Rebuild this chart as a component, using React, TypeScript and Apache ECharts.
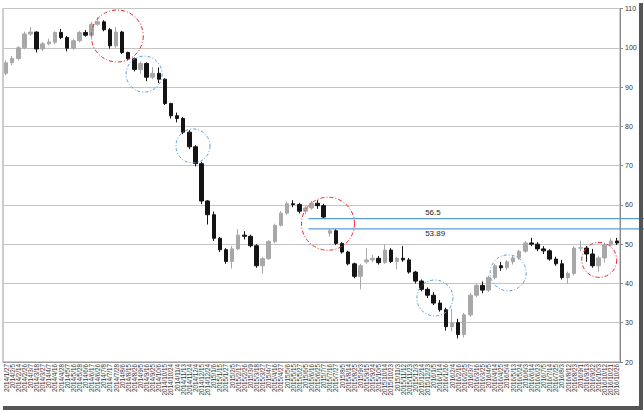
import React, { useEffect, useRef } from "react";
import * as echarts from "echarts";

const dates = [
  "2014/1/27","2014/2/5","2014/2/14","2014/2/26","2014/3/7","2014/3/18","2014/3/27","2014/4/7","2014/4/16","2014/4/28",
  "2014/5/7","2014/5/16","2014/5/28","2014/6/6","2014/6/17","2014/6/26","2014/7/8","2014/7/17","2014/7/28","2014/8/6",
  "2014/8/15","2014/8/26","2014/9/5","2014/9/16","2014/9/25","2014/10/6","2014/10/15","2014/10/24","2014/11/4","2014/11/13",
  "2014/11/24","2014/12/4","2014/12/15","2014/12/24",
  "2015/1/6","2015/1/15","2015/1/27","2015/2/5","2015/2/17","2015/2/26","2015/3/9","2015/3/18","2015/3/27","2015/4/7",
  "2015/4/16","2015/4/27","2015/5/6","2015/5/15","2015/5/27","2015/6/5","2015/6/16","2015/6/25","2015/7/7","2015/7/16",
  "2015/7/27","2015/8/5","2015/8/14","2015/8/25","2015/9/3","2015/9/15","2015/9/24","2015/10/5","2015/10/14","2015/10/23",
  "2015/11/3","2015/11/12","2015/11/23","2015/12/3","2015/12/14","2015/12/23",
  "2016/1/5","2016/1/14","2016/1/26","2016/2/4","2016/2/16","2016/2/25","2016/3/7","2016/3/16","2016/3/25","2016/4/5",
  "2016/4/14","2016/4/25","2016/5/4","2016/5/13","2016/5/24","2016/6/3","2016/6/14","2016/6/23","2016/7/5","2016/7/14",
  "2016/7/25","2016/8/3","2016/8/12","2016/8/23","2016/9/1","2016/9/13","2016/9/22","2016/10/3","2016/10/12","2016/10/21",
  "2016/10/26",
];

const opens = [
  93.5,96.2,97.3,100.0,103.5,104.0,99.7,101.0,101.4,103.9,
  102.6,99.9,101.8,103.9,103.2,106.0,106.6,104.6,100.5,104.0,
  98.8,97.2,94.5,96.0,92.5,93.5,92.0,85.8,82.7,82.0,
  78.5,74.8,70.5,61.0,57.5,51.5,48.6,45.6,48.8,52.3,
  52.0,49.6,44.5,46.3,50.7,54.8,57.9,60.3,60.1,58.4,
  59.2,60.4,59.8,52.8,53.4,50.2,48.0,45.0,41.8,45.5,
  46.0,46.4,45.3,48.5,45.6,46.4,46.0,42.9,40.6,38.5,
  37.0,35.0,33.3,29.0,30.0,27.0,32.0,37.0,39.5,38.3,
  41.5,44.5,44.0,45.5,46.5,48.2,50.3,50.0,48.8,48.3,
  46.2,45.0,41.5,42.5,49.0,49.0,47.5,44.5,46.5,49.8,50.8,
];
const closes = [
  96.2,97.3,100.0,103.5,104.0,99.7,101.0,101.5,103.9,102.6,
  99.9,101.8,103.9,103.2,106.0,106.6,104.6,100.5,104.0,98.8,
  97.2,94.5,96.0,92.5,93.5,92.0,85.8,82.7,82.0,78.5,
  74.8,70.5,61.0,57.5,51.5,48.6,45.6,48.8,52.3,52.0,
  49.6,44.5,46.3,50.7,54.8,57.9,60.3,60.1,58.4,59.2,
  60.4,59.8,56.9,53.4,50.2,48.0,45.0,41.8,44.5,46.0,
  46.4,45.3,48.5,45.6,46.4,46.0,42.9,40.6,38.5,37.0,
  35.0,33.3,29.0,30.0,27.0,32.0,37.0,39.5,38.3,41.5,
  44.5,44.0,45.5,46.5,48.2,50.3,50.0,48.8,48.3,46.2,
  45.0,41.5,42.5,49.0,49.1,47.5,44.5,46.5,49.8,50.8,50.3,
];
const lows = [
  93.0,95.5,96.8,99.6,103.0,98.8,99.2,100.6,100.9,102.2,
  99.1,99.5,101.4,102.8,102.5,105.6,104.2,99.8,100.0,98.4,
  96.8,94.0,93.4,91.5,92.0,91.0,85.4,82.0,81.0,78.0,
  74.2,69.8,60.2,55.0,50.8,48.0,45.0,43.8,48.5,51.2,
  49.2,44.0,42.5,46.0,50.3,54.5,57.5,59.4,57.8,57.6,
  58.8,59.0,56.5,51.9,49.8,47.6,44.6,41.3,38.5,45.0,
  45.3,44.8,45.0,45.2,43.6,45.5,42.5,40.0,38.0,36.3,
  34.5,32.8,28.0,27.8,26.0,26.2,31.5,36.5,37.5,37.8,
  41.0,43.2,43.5,44.8,46.0,47.8,49.5,48.2,47.5,45.8,
  44.5,41.0,39.9,42.0,48.2,45.5,44.0,43.0,45.3,49.5,49.8,
];
const highs = [
  96.8,97.9,100.4,104.1,105.3,104.2,101.5,102.3,104.2,104.8,
  103.0,102.2,104.3,104.5,106.6,107.8,107.0,105.0,105.3,104.3,
  99.0,97.5,96.4,96.3,95.1,95.0,92.2,86.0,83.5,82.4,
  79.0,75.2,71.0,61.2,58.3,51.8,49.0,49.5,53.9,53.3,
  52.4,50.0,46.8,51.0,55.2,58.4,60.8,61.2,60.5,59.8,
  61.0,61.2,60.3,53.89,53.8,50.5,48.3,45.3,45.0,49.0,
  47.2,47.0,50.0,49.0,46.8,49.5,46.5,43.2,41.0,39.0,
  37.8,35.8,33.8,33.5,31.0,32.5,37.5,40.0,40.5,42.0,
  45.0,45.5,46.0,47.0,48.6,50.8,51.6,50.5,49.5,48.7,
  46.8,46.0,43.0,49.5,50.9,49.5,48.8,47.0,50.2,51.5,51.6,
];

const gapLevels = [56.5, 53.89];
const gapLabels = ["56.5", "53.89"];
const gapStartIndex = 49.5;
const gapLabelIndex = 68.6;

// annotation circles: [category position, value, radius(px)]
const redCircles = [
  [18.2, 103.0, 26],
  [52.7, 55.2, 26.5],
  [97.1, 46.0, 17.5],
];
const blueCircles = [
  [22.6, 93.3, 18],
  [30.6, 75.0, 17],
  [70.2, 36.3, 18],
  [82.2, 42.7, 18],
];

export default function App() {
  const ref = useRef<HTMLDivElement>(null);
  useEffect(() => {
    if (!ref.current) return;
    const chart = echarts.init(ref.current, null, { renderer: "svg" });
    const ohlc = dates.map((_, i) => [opens[i], closes[i], lows[i], highs[i]]);
    chart.setOption({
      animation: false,
      backgroundColor: "#ffffff",
      grid: {
        left: 3,
        top: 8.5,
        right: 24,
        bottom: 50,
        show: true,
        borderColor: "#9a9a9a",
        borderWidth: 1,
      },
      xAxis: {
        type: "category",
        data: dates,
        boundaryGap: true,
        axisLine: { show: true, lineStyle: { color: "#9a9a9a" } },
        axisTick: { show: false },
        axisLabel: {
          rotate: 90,
          interval: 0,
          fontSize: 6.3,
          margin: 2,
          color: "#333",
          fontFamily: "Liberation Sans",
        },
        splitLine: { show: false },
      },
      yAxis: {
        type: "value",
        position: "right",
        min: 20,
        max: 110,
        interval: 10,
        axisLine: { show: true, lineStyle: { color: "#888" } },
        axisTick: { show: true, length: 3, lineStyle: { color: "#888" } },
        axisLabel: {
          fontSize: 7,
          color: "#333",
          margin: 5,
          fontFamily: "Liberation Sans",
        },
        splitLine: { show: true, lineStyle: { color: "#c4c4c4", width: 1 } },
      },
      series: [
        {
          type: "candlestick",
          data: ohlc,
          barWidth: 4,
          itemStyle: {
            color: "#a8a8a8",
            color0: "#141414",
            borderColor: "#a8a8a8",
            borderColor0: "#141414",
            borderWidth: 1,
          },
        },
      ],
    });

    const p0 = chart.convertToPixel({ xAxisIndex: 0, yAxisIndex: 0 }, [0, 50]) as number[];
    const p1 = chart.convertToPixel({ xAxisIndex: 0, yAxisIndex: 0 }, [1, 50]) as number[];
    const step = p1[0] - p0[0];
    const px = (pos: number, v: number) => {
      const p = chart.convertToPixel({ xAxisIndex: 0, yAxisIndex: 0 }, [0, v]) as number[];
      return [p[0] + pos * step, p[1]];
    };

    const graphics: any[] = [];
    gapLevels.forEach((lv, k) => {
      const a = px(gapStartIndex, lv);
      graphics.push({
        type: "line",
        shape: { x1: a[0], y1: a[1], x2: 644, y2: a[1] },
        style: { stroke: "#5b9bd5", lineWidth: 1.2 },
        z: 10,
      });
      const t = px(gapLabelIndex, lv);
      graphics.push({
        type: "text",
        x: t[0],
        y: k === 0 ? t[1] - 2 : t[1] + 9,
        style: {
          text: gapLabels[k],
          fill: "#222",
          fontSize: 8,
          fontFamily: "Liberation Sans",
          verticalAlign: "bottom",
        },
        z: 10,
      });
    });
    const circ = (arr: number[][], color: string, dash: number[]) => {
      arr.forEach(([pos, v, r]) => {
        const c = px(pos, v);
        graphics.push({
          type: "circle",
          shape: { cx: c[0], cy: c[1], r },
          style: { fill: "none", stroke: color, lineWidth: 1, lineDash: dash },
          z: 11,
        });
      });
    };
    circ(redCircles, "#ee2222", [4, 2, 1, 2]);
    circ(blueCircles, "#5b9bd5", [3, 2, 1, 2]);

    // drop shadow of the framed picture
    graphics.push({
      type: "rect",
      shape: { x: 639, y: 3, width: 4, height: 406 },
      style: { fill: "#555" },
      z: 12,
    });
    graphics.push({
      type: "rect",
      shape: { x: 3, y: 406, width: 640, height: 4 },
      style: { fill: "#555" },
      z: 12,
    });

    chart.setOption({ graphic: graphics });
    return () => chart.dispose();
  }, []);
  return (
    <div
      ref={ref}
      style={{ position: "fixed", left: 0, top: 0, width: 644, height: 412, background: "#fff" }}
    />
  );
}
